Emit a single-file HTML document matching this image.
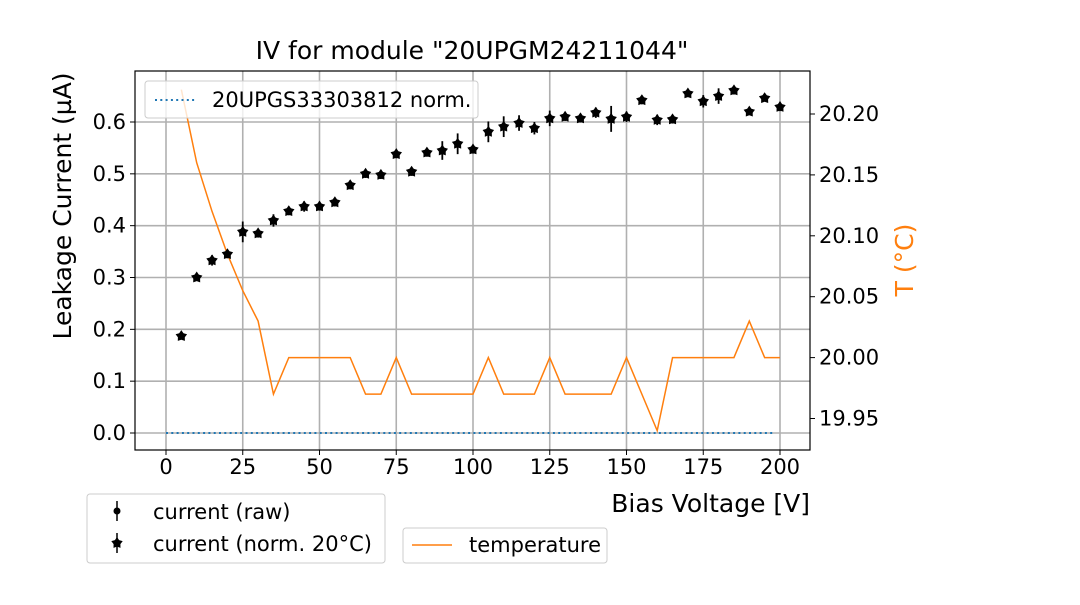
<!DOCTYPE html>
<html><head><meta charset="utf-8"><style>
body{margin:0;background:#fff}
svg text{font-family:"DejaVu Sans","Liberation Sans",sans-serif;fill:#000}
</style></head><body>
<svg id="chart" width="1080" height="600">
</svg>
<script>
const voltages=[5,10,15,20,25,30,35,40,45,50,55,60,65,70,75,80,85,90,95,100,105,110,115,120,125,130,135,140,145,150,155,160,165,170,175,180,185,190,195,200];
const currents=[0.187,0.300,0.333,0.345,0.388,0.385,0.410,0.428,0.437,0.437,0.445,0.478,0.500,0.498,0.538,0.504,0.541,0.545,0.558,0.547,0.581,0.591,0.598,0.588,0.607,0.610,0.607,0.618,0.606,0.610,0.642,0.604,0.605,0.655,0.640,0.650,0.661,0.620,0.646,0.629];
const errors=[0.005,0.006,0.01,0.008,0.02,0.008,0.012,0.008,0.01,0.008,0.008,0.008,0.008,0.008,0.008,0.008,0.008,0.018,0.02,0.008,0.02,0.02,0.015,0.012,0.015,0.008,0.008,0.01,0.025,0.01,0.008,0.01,0.008,0.006,0.012,0.015,0.008,0.006,0.006,0.008];
const temps=[20.22,20.16,20.12,20.085,20.055,20.03,19.97,20.0,20.0,20.0,20.0,20.0,19.97,19.97,20.0,19.97,19.97,19.97,19.97,19.97,20.0,19.97,19.97,19.97,20.0,19.97,19.97,19.97,19.97,20.0,19.97,19.94,20.0,20.0,20.0,20.0,20.0,20.03,20.0,20.0];
const refV=[0,198];
const refI=[0,0];
const xTicks=[0,25,50,75,100,125,150,175,200];
const yTicks=[0.0,0.1,0.2,0.3,0.4,0.5,0.6];
const tTicks=[19.95,20.00,20.05,20.10,20.15,20.20];

const svg=document.getElementById('chart');
const NS='http://www.w3.org/2000/svg';
const L=135,R=810,T=71,B=450;
const x=v=>166+(v-0)*(780-166)/200;
const y=i=>433-i*(433-122)/0.6;
const yt=t=>357.6-(t-20)*(357.6-114)/0.2;
function mk(tag,attrs,parent){const e=document.createElementNS(NS,tag);for(const k in attrs)e.setAttribute(k,attrs[k]);(parent||svg).appendChild(e);return e;}
function txt(s,attrs,name){const e=mk('text',attrs);e.textContent=s;


return e;}

xTicks.forEach(v=>{const g=mk('line',{x1:x(v),x2:x(v),y1:T,y2:B,stroke:'#b0b0b0','stroke-width':1.6});

});
yTicks.forEach(v=>{const g=mk('line',{x1:L,x2:R,y1:y(v),y2:y(v),stroke:'#b0b0b0','stroke-width':1.6});

});

const rl=mk('line',{x1:x(refV[0]),x2:x(refV[1]),y1:y(refI[0]),y2:y(refI[1]),stroke:'#1f77b4','stroke-width':2,'stroke-dasharray':'2,3.3'});



const tp=mk('polyline',{points:voltages.map((v,k)=>x(v)+','+yt(temps[k])).join(' '),fill:'none',stroke:'#ff7f0e','stroke-width':1.5});



function star(cx,cy,r){let p=[];for(let k=0;k<10;k++){const a=-Math.PI/2+k*Math.PI/5;const rr=k%2?r*0.6:r;p.push((cx+rr*Math.cos(a)).toFixed(1)+','+(cy+rr*Math.sin(a)).toFixed(1));}return p.join(' ');}
voltages.forEach((v,k)=>{
 const cx=x(v),cy=y(currents[k]);
 const eb=mk('line',{x1:cx,x2:cx,y1:y(currents[k]+errors[k]),y2:y(currents[k]-errors[k]),stroke:'#000','stroke-width':1.8});
 
 
 const c=mk('circle',{cx:cx,cy:cy,r:3.5,fill:'#000'});
 
 
 const s=mk('polygon',{points:star(cx,cy,6),fill:'#000'});
 
 
});

const fr=mk('rect',{x:L,y:T,width:R-L,height:B-T,fill:'none',stroke:'#000','stroke-width':1.2});



xTicks.forEach(v=>{mk('line',{x1:x(v),x2:x(v),y1:B,y2:B+5,stroke:'#000'});
txt(String(v),{x:x(v),y:B+24,'text-anchor':'middle','font-size':21},'x-tick-label');});
yTicks.forEach(v=>{mk('line',{x1:L-5,x2:L,y1:y(v),y2:y(v),stroke:'#000'});
txt(v.toFixed(1),{x:L-9,y:y(v)+7,'text-anchor':'end','font-size':21},'y-tick-label');});
tTicks.forEach(v=>{mk('line',{x1:R,x2:R+5,y1:yt(v),y2:yt(v),stroke:'#000'});
txt(v.toFixed(2),{x:R+9,y:yt(v)+7,'font-size':21},'temp-tick-label');});

txt('IV for module "20UPGM24211044"',{x:472,y:59,'text-anchor':'middle','font-size':25},'chart-title');
txt('Bias Voltage [V]',{x:810,y:512,'text-anchor':'end','font-size':25},'x-axis-title');
txt('Leakage Current (µA)',{x:0,y:0,'text-anchor':'middle','font-size':25,transform:'translate(71,206) rotate(-90)'},'y-axis-title');
const rt=txt('T (°C)',{x:0,y:0,'text-anchor':'middle','font-size':25,transform:'translate(913,260) rotate(-90)'},'temp-axis-title');
rt.setAttribute('style','fill:#ff7f0e');

function box(X,Y,W,H,name){const b=mk('rect',{x:X,y:Y,width:W,height:H,rx:3,fill:'#fff','fill-opacity':0.8,stroke:'#ccc'});

}
box(145,81,333,37,'reference-legend');
mk('line',{x1:155,x2:195,y1:100,y2:100,stroke:'#1f77b4','stroke-width':2,'stroke-dasharray':'2,3.3'});
txt('20UPGS33303812 norm.',{x:212,y:107,'font-size':21},'reference-legend-label');

box(87,494,298,69,'current-legend');
mk('line',{x1:117,x2:117,y1:501,y2:521,stroke:'#000','stroke-width':1.5});
mk('circle',{cx:117,cy:511,r:3.5,fill:'#000'});
txt('current (raw)',{x:153,y:519,'font-size':21},'raw-legend-label');
mk('line',{x1:117,x2:117,y1:533,y2:553,stroke:'#000','stroke-width':1.5});
mk('polygon',{points:star(117,543,6),fill:'#000'});
txt('current (norm. 20°C)',{x:153,y:551,'font-size':21},'norm-legend-label');

box(403,528,204,35,'temperature-legend');
mk('line',{x1:412,x2:452,y1:545,y2:545,stroke:'#ff7f0e','stroke-width':1.5});
txt('temperature',{x:469,y:552,'font-size':21},'temperature-legend-label');
</script>
</body></html>
